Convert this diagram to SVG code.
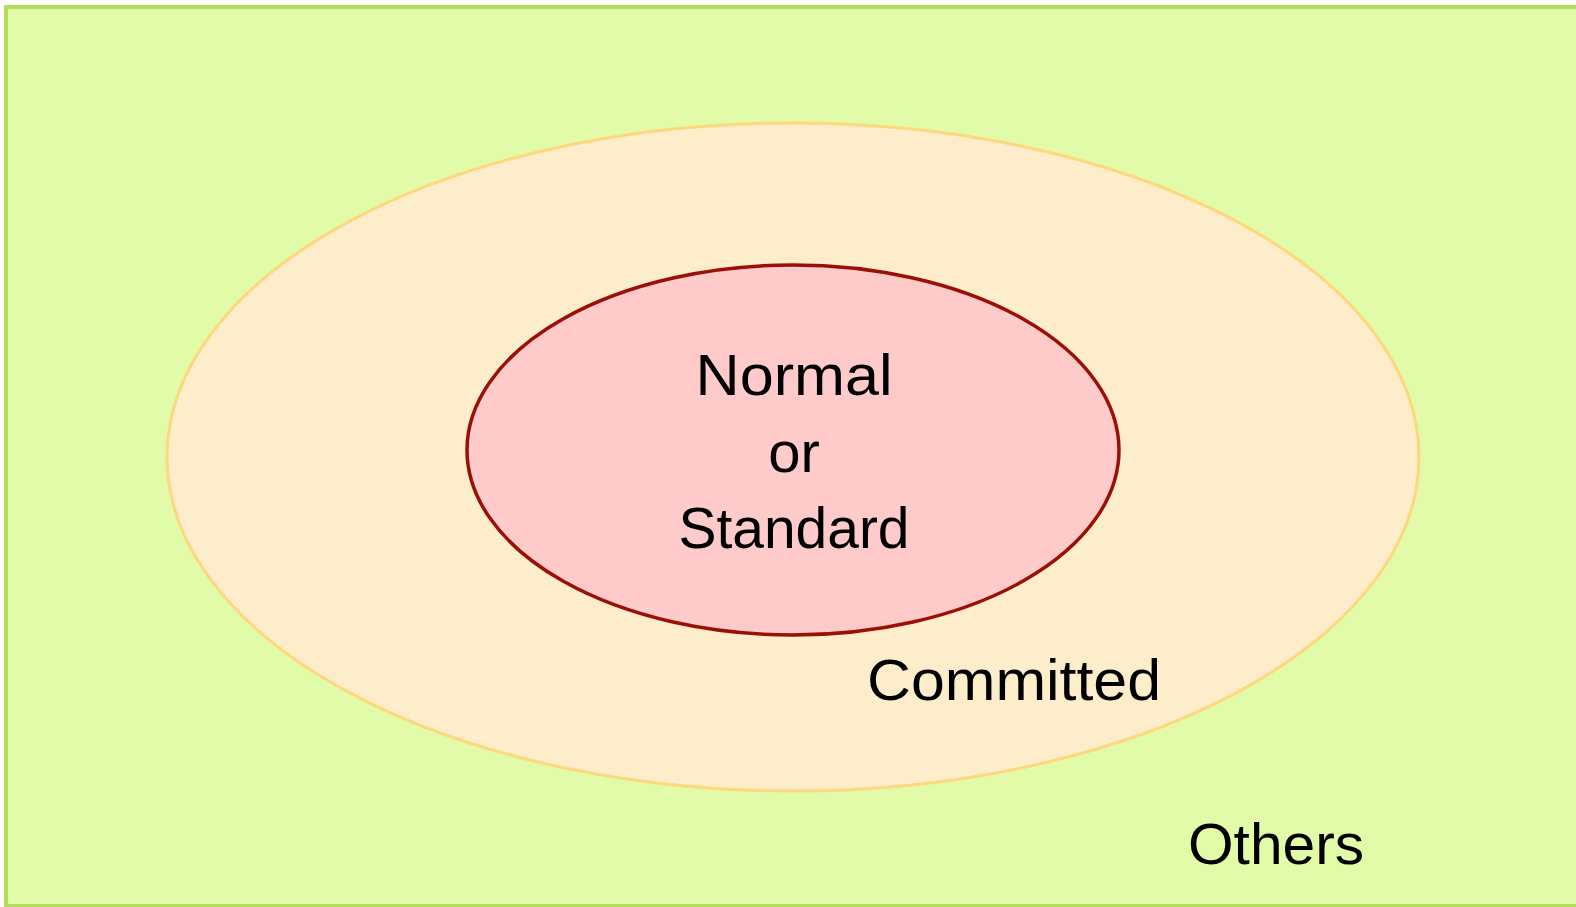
<svg xmlns="http://www.w3.org/2000/svg" width="1576" height="907" viewBox="0 0 1576 907">
<style>
.lbl{font-family:"Liberation Sans","DejaVu Sans",sans-serif;font-size:58px;fill:#000;}
</style>
<rect width="1576" height="907" fill="#ffffff"/>
<g id="others">
<rect x="6" y="7" width="1580" height="899" fill="#E2FBA8" stroke="#B3DC58" stroke-width="4"/>
<text class="lbl" x="1276" y="864" text-anchor="middle" textLength="176" lengthAdjust="spacingAndGlyphs">Others</text>
</g>
<g id="committed">
<ellipse cx="793" cy="457" rx="626" ry="334" fill="#FDEDCB" stroke="#FFD77C" stroke-width="3"/>
<text class="lbl" x="1014" y="700" text-anchor="middle" textLength="294" lengthAdjust="spacingAndGlyphs">Committed</text>
</g>
<g id="normal">
<ellipse cx="793" cy="450" rx="326" ry="185" fill="#FECACA" stroke="#9B1006" stroke-width="3.5"/>
<text class="lbl" x="794" y="395" text-anchor="middle" textLength="197" lengthAdjust="spacingAndGlyphs">Normal</text>
<text class="lbl" x="794" y="472" text-anchor="middle">or</text>
<text class="lbl" x="794" y="548" text-anchor="middle" textLength="231" lengthAdjust="spacingAndGlyphs">Standard</text>
</g>
<g id="connectors"/>
</svg>
